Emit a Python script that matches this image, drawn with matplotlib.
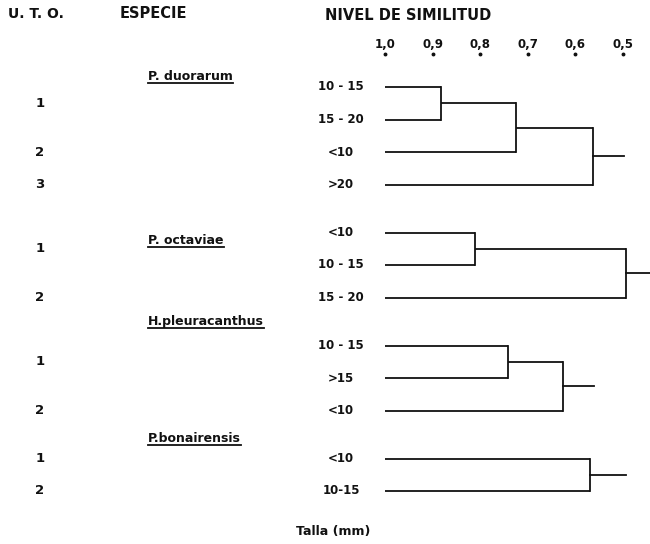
import matplotlib
matplotlib.use("Agg")
import matplotlib.pyplot as plt
from matplotlib.lines import Line2D

# ---- data -------------------------------------------------------------
sim_ticks = [1.0, 0.9, 0.8, 0.7, 0.6, 0.5]
sim_tick_labels = ["1,0", "0,9", "0,8", "0,7", "0,6", "0,5"]

species = ["P. duorarum", "P. octaviae", "H.pleuracanthus", "P.bonairensis"]

size_classes = [
    ["10 - 15", "15 - 20", "<10", ">20"],
    ["<10", "10 - 15", "15 - 20"],
    ["10 - 15", ">15", "<10"],
    ["<10", "10-15"],
]

# operational taxonomic unit each size class belongs to
uto_ids = [
    [1, 1, 2, 3],
    [1, 1, 2],
    [1, 1, 2],
    [1, 2],
]

# merges per species: (cluster a, cluster b, similarity level)
merges = [
    [(0, 1, 0.882), (4, 2, 0.725), (5, 3, 0.563)],
    [(0, 1, 0.811), (3, 2, 0.494)],
    [(0, 1, 0.742), (3, 2, 0.626)],
    [(0, 1, 0.569)],
]
root_tail = [0.498, 0.44, 0.561, 0.494]

# ---- layout -----------------------------------------------------------
W, H = 650, 544
ink = "#111111"
x_one = 385          # pixel column of similarity 1.0
px_per_unit = 476    # pixels per 1.0 of similarity
row_step = 32.5
group_gap = 15.5
first_row = 87
species_label_y = [77, 241, 322, 439]


def px_to_sim(px):
    return 1 + (x_one - px) / px_per_unit


fig = plt.figure(figsize=(W / 100, H / 100), dpi=100)
ax = fig.add_axes([0, 0, 1, 1])
ax.set_xlim(px_to_sim(0), px_to_sim(W))
ax.set_ylim(H, 0)
ax.axis("off")

font = dict(family="DejaVu Sans", weight="bold", color=ink)


def draw_tree(ys, links, tail, lw=1.3):
    pos = list(ys)
    lvl = [1.0] * len(ys)
    for a, b, s in links:
        for i in (a, b):
            ax.plot([lvl[i], s], [pos[i], pos[i]], color=ink, lw=lw,
                    solid_capstyle="butt")
        ax.plot([s, s], [pos[a], pos[b]], color=ink, lw=lw)
        pos.append((pos[a] + pos[b]) / 2)
        lvl.append(s)
    ax.plot([lvl[-1], tail], [pos[-1], pos[-1]], color=ink, lw=lw)


# headers
fig.text(8 / W, 1 - 14 / H, "U. T. O.", fontsize=10, va="center", **font)
fig.text(120 / W, 1 - 13 / H, "ESPECIE", fontsize=10.5, va="center", **font)
fig.text(408 / W, 1 - 15 / H, "NIVEL DE SIMILITUD", fontsize=10.5,
         ha="center", va="center", **font)

# similarity scale
for s, lab in zip(sim_ticks, sim_tick_labels):
    ax.text(s, 45, lab, fontsize=8.5, ha="center", va="center", **font)
    ax.plot(s, 54, marker="o", ms=1.8, color=ink)

species_texts = []
y_cursor = first_row
for g in range(len(species)):
    n = len(size_classes[g])
    ys = [y_cursor + k * row_step for k in range(n)]
    for lab, y in zip(size_classes[g], ys):
        ax.text(px_to_sim(341), y, lab, fontsize=8.5,
                ha="center", va="center", **font)
    for u in sorted(set(uto_ids[g])):
        uy = [y for y, i in zip(ys, uto_ids[g]) if i == u]
        fig.text(40 / W, 1 - (sum(uy) / len(uy)) / H, str(u), fontsize=9.5,
                 ha="center", va="center", **font)
    t = fig.text(148 / W, 1 - species_label_y[g] / H, species[g],
                 fontsize=9, va="center", **font)
    species_texts.append(t)
    draw_tree(ys, merges[g], root_tail[g])
    y_cursor = ys[-1] + row_step + group_gap

fig.text(333 / W, 1 - 532 / H, "Talla (mm)", fontsize=9, ha="center",
         va="center", **font)

# underline the species names
fig.canvas.draw()
renderer = fig.canvas.get_renderer()
for t in species_texts:
    bb = t.get_window_extent(renderer)
    yl = (bb.y0 + 1) / H
    fig.add_artist(Line2D([bb.x0 / W, bb.x1 / W], [yl, yl], color=ink,
                          lw=1.3, transform=fig.transFigure))

fig.savefig("out.png", dpi=100, facecolor="white")
